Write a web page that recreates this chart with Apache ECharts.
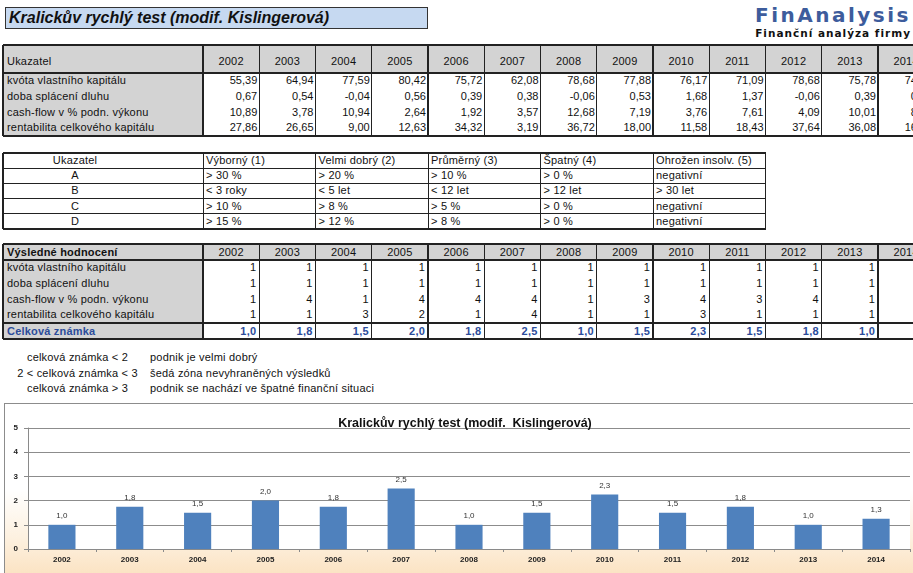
<!DOCTYPE html>
<html><head><meta charset="utf-8">
<script src="https://cdn.jsdelivr.net/npm/echarts@6/dist/echarts.min.js"></script>
<style>
html,body{margin:0;padding:0;width:913px;height:573px;overflow:hidden;background:#fff;font-family:"Liberation Sans",Arial,sans-serif;}
.a{position:absolute;box-sizing:border-box;white-space:nowrap;overflow:hidden;font-size:11px;color:#111;letter-spacing:0.2px;}
.ln{position:absolute;background:#222;}
</style></head>
<body>
<div id="page" style="position:absolute;left:0;top:0;width:913px;height:573px;"></div>
<script>
// ---------- data ----------
const years = ['2002','2003','2004','2005','2006','2007','2008','2009','2010','2011','2012','2013','2014'];
const rowNames = ['kvóta vlastního kapitálu','doba splácení dluhu','cash-flow v % podn. výkonu','rentabilita celkového kapitálu'];
const kvota    = [55.39,64.94,77.59,80.42,75.72,62.08,78.68,77.88,76.17,71.09,78.68,75.78,74.52];
const doba     = [0.67,0.54,-0.04,0.56,0.39,0.38,-0.06,0.53,1.68,1.37,-0.06,0.39,0.45];
const cashflow = [10.89,3.78,10.94,2.64,1.92,3.57,12.68,7.19,3.76,7.61,4.09,10.01,8.95];
const rentab   = [27.86,26.65,9.00,12.63,34.32,3.19,36.72,18.00,11.58,18.43,37.64,36.08,16.40];
const gradeA = [1,1,1,1,1,1,1,1,1,1,1,1,1];
const gradeB = [1,1,1,1,1,1,1,1,1,1,1,1,1];
const gradeC = [1,4,1,4,4,4,1,3,4,3,4,1,2];
const gradeD = [1,1,3,2,1,4,1,1,3,1,1,1,1];
const celkova = [1.0,1.75,1.5,2.0,1.75,2.5,1.0,1.5,2.25,1.5,1.75,1.0,1.25];
const critHeader = ['Ukazatel','Výborný (1)','Velmi dobrý (2)','Průměrný (3)','Špatný (4)','Ohrožen insolv. (5)'];
const critRows = [
  ['A','> 30 %','> 20 %','> 10 %','> 0 %','negativní'],
  ['B','< 3 roky','< 5 let','< 12 let','> 12 let','> 30 let'],
  ['C','> 10 %','> 8 %','> 5 %','> 0 %','negativní'],
  ['D','> 15 %','> 12 %','> 8 %','> 0 %','negativní']
];
const notesLeft = ['celková známka < 2','2 < celková známka < 3','celková známka > 3'];
const notesRight = ['podnik je velmi dobrý','šedá zóna nevyhraněných výsledků','podnik se nachází ve špatné finanční situaci'];
const pageTitle = 'Kralickův rychlý test (modif. Kislingerová)';
const chartTitle = 'Kralickův rychlý test (modif.  Kislingerová)';

// ---------- helpers ----------
const page = document.getElementById('page');
function box(x,y,w,h,text,css){
  const d=document.createElement('div');d.className='a';
  d.style.left=x+'px';d.style.top=y+'px';d.style.width=w+'px';d.style.height=h+'px';
  if(css) d.style.cssText+=css;
  if(text!==undefined) d.textContent=text;
  page.appendChild(d);return d;
}
function hl(x1,x2,y,t){const d=document.createElement('div');d.className='ln';d.style.left=x1+'px';d.style.top=(y-t/2)+'px';d.style.width=(x2-x1)+'px';d.style.height=t+'px';page.appendChild(d);}
function vl(x,y1,y2,t){const d=document.createElement('div');d.className='ln';d.style.left=(x-t/2)+'px';d.style.top=y1+'px';d.style.width=t+'px';d.style.height=(y2-y1)+'px';page.appendChild(d);}
const fmt2 = v => v.toFixed(2).replace('.',',');
const fmt1 = v => v.toFixed(1).replace('.',',');
const GRAY = '#d3d3d3';
const X0 = 3, X1 = 203, CW = 56.25;
const colX = i => X1 + i*CW;
const XR = colX(years.length);

// ---------- title + logo ----------
box(5,7,423,22,pageTitle,'background:#c6d9f1;border:1.5px solid #333;font-weight:bold;font-style:italic;font-size:16px;line-height:19px;padding-left:3px;letter-spacing:0;');
box(560,3,351,24,'FinAnalysis','text-align:right;font-family:"DejaVu Sans",sans-serif;font-weight:bold;font-size:20px;color:#3d5c9c;letter-spacing:2.5px;line-height:24px;');
box(600,26,311,14,'Finanční analýza firmy','text-align:right;font-family:"DejaVu Sans",sans-serif;font-weight:bold;font-size:10.5px;color:#111;letter-spacing:1px;line-height:14px;');

// ---------- table 1 ----------
(function(){
  const top=45, hb=73, rh=15.75, bot=hb+4*rh;
  box(X0,top,XR-X0,hb-top,'','background:'+GRAY);
  box(X0,hb,X1-X0,bot-hb,'','background:'+GRAY);
  box(X0,top,X1-X0,hb-top,'Ukazatel','padding:10px 0 0 4px;line-height:13px;');
  years.forEach((y,i)=>box(colX(i),top,CW,hb-top,y,'text-align:center;padding-top:10px;line-height:13px;'));
  const vals=[kvota,doba,cashflow,rentab];
  rowNames.forEach((n,r)=>{
    const y=hb+r*rh;
    box(X0,y,X1-X0,rh,n,'padding-left:4px;line-height:'+rh+'px;');
    vals[r].forEach((v,i)=>box(colX(i),y,CW,rh,fmt2(v),'text-align:right;padding-right:2px;line-height:'+rh+'px;letter-spacing:0;'));
  });
  hl(X0,XR,top,2.5);hl(X0,XR,hb,2.5);hl(X0,XR,bot,2.5);vl(X0,top,bot,2.5);
  vl(X1,top,bot,1.5);
  for(let i=1;i<=years.length;i++) vl(colX(i),top,bot,1.2);
})();

// ---------- table 2 (criteria) ----------
(function(){
  const top=153, rh=15.2, cw=112.5;
  const cx=i=>i===0?X0:X1+(i-1)*cw;
  const cwid=i=>i===0?X1-X0:cw;
  critHeader.forEach((h,i)=>box(cx(i),top,cwid(i),rh,h,i===0?'text-align:center;padding-right:56px;line-height:'+rh+'px;':'padding-left:3px;line-height:'+rh+'px;'));
  critRows.forEach((row,r)=>row.forEach((t,i)=>box(cx(i),top+(r+1)*rh,cwid(i),rh,t,i===0?'text-align:center;padding-right:56px;line-height:'+rh+'px;':'padding-left:3px;line-height:'+rh+'px;')));
  const bot=top+5*rh, right=cx(6);
  for(let r=0;r<=5;r++) hl(X0,right,top+r*rh,(r===0||r===5)?1.5:1);
  for(let i=0;i<=6;i++) vl(cx(i),top,bot,(i===0||i===6)?1.5:1);
})();

// ---------- table 3 (results) ----------
(function(){
  const top=244, hb=260, rh=15.75, db=hb+4*rh, bot=db+16;
  box(X0,top,XR-X0,hb-top,'','background:'+GRAY);
  box(X0,hb,X1-X0,bot-hb,'','background:'+GRAY);
  box(X0,top,X1-X0,hb-top,'Výsledné hodnocení','padding-left:4px;font-weight:bold;line-height:16px;');
  years.forEach((y,i)=>box(colX(i),top,CW,hb-top,y,'text-align:center;line-height:16px;'));
  const g=[gradeA,gradeB,gradeC,gradeD];
  rowNames.forEach((n,r)=>{
    const y=hb+r*rh;
    box(X0,y,X1-X0,rh,n,'padding-left:4px;line-height:'+rh+'px;');
    g[r].forEach((v,i)=>box(colX(i),y,CW,rh,String(v),'text-align:right;padding-right:3px;line-height:'+rh+'px;background:#fff;'));
  });
  box(X0,db,X1-X0,bot-db,'Celková známka','padding-left:4px;line-height:16px;font-weight:bold;color:#2b4c9b;');
  celkova.forEach((v,i)=>box(colX(i),db,CW,bot-db,fmt1(v),'text-align:right;padding-right:3px;line-height:16px;font-weight:bold;color:#2b4c9b;background:#fff;'));
  hl(X0,XR,top,2.5);hl(X0,XR,hb,2.5);hl(X0,XR,db,2.5);hl(X0,XR,bot,2.5);vl(X0,top,bot,2.5);
  vl(X1,top,bot,1.5);
  for(let i=1;i<=years.length;i++) vl(colX(i),top,bot,1.2);
})();

// ---------- notes ----------
notesLeft.forEach((t,i)=>{
  box(0,350+i*15.5,155,15,t,'text-align:center;line-height:15px;');
  box(150,350+i*15.5,400,15,notesRight[i],'line-height:15px;');
});

// ---------- chart ----------
const wrap=document.createElement('div');
wrap.style.cssText='position:absolute;left:4px;top:403px;width:922px;height:172px;border:1px solid #8c8c8c;box-sizing:border-box;';
page.appendChild(wrap);
const cdiv=document.createElement('div');
cdiv.style.cssText='position:absolute;left:0;top:0;width:920px;height:170px;';
wrap.appendChild(cdiv);
const chart=echarts.init(cdiv,null,{renderer:'canvas'});
chart.setOption({
  animation:false,
  backgroundColor:{type:'linear',x:0,y:0,x2:0,y2:1,colorStops:[{offset:0,color:'#ffffff'},{offset:0.5,color:'#ffffff'},{offset:0.8,color:'#fdf0de'},{offset:1,color:'#fbe3c3'}]},
  title:{text:chartTitle,left:'center',top:8,textStyle:{fontFamily:'Liberation Sans, Arial',fontSize:12.5,fontWeight:'bold',color:'#111'}},
  grid:{left:23,top:24,width:882,height:121,show:true,backgroundColor:'#ffffff',borderWidth:0,containLabel:false},
  xAxis:{type:'category',data:years,
    axisLine:{lineStyle:{color:'#8a8a8a',width:1}},
    axisTick:{show:true,length:3,inside:false,lineStyle:{color:'#8a8a8a'}},
    axisLabel:{fontFamily:'Liberation Sans, Arial',fontSize:8,fontWeight:'bold',color:'#222',margin:7}},
  yAxis:{type:'value',min:0,max:5,interval:1,
    axisLine:{show:true,lineStyle:{color:'#8a8a8a',width:1}},
    axisTick:{show:true,length:4,lineStyle:{color:'#8a8a8a'}},
    splitLine:{show:true,lineStyle:{color:'#8c8c8c',width:1}},
    axisLabel:{fontFamily:'Liberation Sans, Arial',fontSize:8,fontWeight:'bold',color:'#222',margin:10}},
  series:[{type:'bar',data:celkova,barWidth:'40%',itemStyle:{color:'#4f81bd'},
    label:{show:true,position:'top',distance:5,fontFamily:'Liberation Sans, Arial',fontSize:8,color:'#333',formatter:p=>fmt1(p.value)}}]
});
</script>
</body></html>
